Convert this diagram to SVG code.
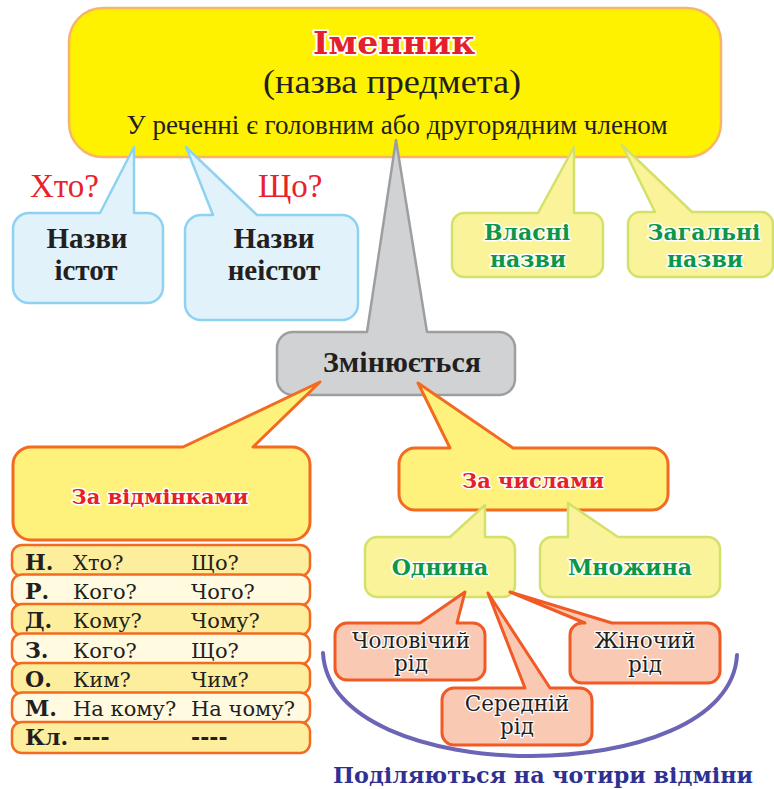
<svg xmlns="http://www.w3.org/2000/svg" width="774" height="789" viewBox="0 0 774 789">
<style>
.top{fill:#FFF200;stroke:#F8B565;stroke-width:2.5}
.blue{fill:#E2F2FB;stroke:#8DD2F1;stroke-width:2.5;stroke-linejoin:round}
.gray{fill:#D1D2D4;stroke:#9C9EA1;stroke-width:2.5;stroke-linejoin:round}
.green{fill:#FAF39A;stroke:#D3E16B;stroke-width:2.5;stroke-linejoin:round}
.orange{fill:#FFF27C;stroke:#F26B21;stroke-width:3;stroke-linejoin:round}
.pink{fill:#F9C9B4;stroke:#F15A24;stroke-width:3;stroke-linejoin:round}
.r1{fill:#FDEE9E;stroke:#F26B21;stroke-width:2.5}
.r2{fill:#FFFAE0;stroke:#F26B21;stroke-width:2.5}
.arc{fill:none;stroke:#6C64B4;stroke-width:4;stroke-linecap:round}
.serif{font-family:"Liberation Serif","DejaVu Serif",serif;fill:#231F20}
.sb{font-family:"Liberation Serif","DejaVu Serif",serif;font-weight:bold;fill:#231F20;text-anchor:middle}
.head{font-family:"DejaVu Serif","Liberation Serif",serif;font-weight:bold;text-anchor:middle;stroke:#fff;stroke-width:3;paint-order:stroke;stroke-linejoin:round}
.red{fill:#E4202A}
.grn{fill:#0C9647}
.pt{font-family:"DejaVu Serif","Liberation Serif",serif;font-size:21.5px;fill:#231F20;text-anchor:middle;stroke:#fff;stroke-width:2.5;paint-order:stroke;stroke-linejoin:round}
.tb{font-family:"DejaVu Serif","Liberation Serif",serif;font-size:21px;fill:#231F20}
.tbb{font-family:"DejaVu Serif","Liberation Serif",serif;font-size:22px;font-weight:bold;fill:#231F20}
</style>

<g id="imennyk">
<rect class="top" x="69" y="8" width="652" height="149" rx="34"/>
<text class="head red" x="394" y="54" font-size="32" textLength="162" lengthAdjust="spacingAndGlyphs" style="stroke-width:4">Іменник</text>
<text class="serif" x="392" y="93" font-size="34" text-anchor="middle" textLength="258" lengthAdjust="spacingAndGlyphs">(назва предмета)</text>
<text class="serif" x="397" y="134" font-size="27" text-anchor="middle" textLength="541" lengthAdjust="spacingAndGlyphs">У реченні є головним або другорядним членом</text>
</g>

<g id="connectors">
<text class="serif" x="30" y="197" font-size="33" style="fill:#E8222A">Хто?</text>
<text class="serif" x="258" y="197" font-size="33" style="fill:#E8222A">Що?</text>
<path class="arc" d="M323 653 C330 790 730 790 737 655"/>
</g>

<g id="istoty">
<path class="blue" d="M29 213 L100 213 L134 147 L134 213 L147 213 A16 16 0 0 1 163 229 L163 287 A16 16 0 0 1 147 303 L29 303 A16 16 0 0 1 13 287 L13 229 A16 16 0 0 1 29 213Z"/>
<text class="sb" x="87" y="248" font-size="29">Назви</text>
<text class="sb" x="86" y="280" font-size="29">істот</text>
</g>

<g id="neistoty">
<path class="blue" d="M201 215 L213 215 L186 147 L257 215 L342 215 A16 16 0 0 1 358 231 L358 304 A16 16 0 0 1 342 320 L201 320 A16 16 0 0 1 185 304 L185 231 A16 16 0 0 1 201 215Z"/>
<text class="sb" x="274" y="248" font-size="29">Назви</text>
<text class="sb" x="274" y="280" font-size="29">неістот</text>
</g>

<g id="vlasni">
<path class="green" d="M464 213 L538 213 L574 147 L574 213 L591 213 A12 12 0 0 1 603 225 L603 265 A12 12 0 0 1 591 277 L464 277 A12 12 0 0 1 452 265 L452 225 A12 12 0 0 1 464 213Z"/>
<text class="head grn" x="527" y="240" font-size="22">Власні</text>
<text class="head grn" x="528" y="267" font-size="22">назви</text>
</g>

<g id="zahalni">
<path class="green" d="M640 212 L655 212 L622 145 L692 212 L761 212 A12 12 0 0 1 773 224 L773 265 A12 12 0 0 1 761 277 L640 277 A12 12 0 0 1 628 265 L628 224 A12 12 0 0 1 640 212Z"/>
<text class="head grn" x="704" y="240" font-size="22">Загальні</text>
<text class="head grn" x="705" y="267" font-size="22">назви</text>
</g>

<g id="zminiuietsia">
<path class="gray" d="M293 332 L367 332 L396 140 L427 332 L499 332 A16 16 0 0 1 515 348 L515 379 A16 16 0 0 1 499 395 L293 395 A16 16 0 0 1 277 379 L277 348 A16 16 0 0 1 293 332Z"/>
<text class="sb" x="402" y="372" font-size="30">Змінюється</text>
</g>

<g id="vidminky">
<path class="orange" d="M31 447 L183 447 L320 382 L253 447 L292 447 A18 18 0 0 1 310 465 L310 522 A18 18 0 0 1 292 540 L31 540 A18 18 0 0 1 13 522 L13 465 A18 18 0 0 1 31 447Z"/>
<text class="head red" x="160" y="504" font-size="21">За відмінками</text>
</g>

<g id="chysla">
<path class="orange" d="M415 448 L450 448 L418 383 L513 448 L652 448 A16 16 0 0 1 668 464 L668 494 A16 16 0 0 1 652 510 L415 510 A16 16 0 0 1 399 494 L399 464 A16 16 0 0 1 415 448Z"/>
<text class="head red" x="533" y="488" font-size="21">За числами</text>
</g>

<g id="odnyna">
<path class="green" d="M377 537 L450 537 L485 505 L485 537 L503 537 A12 12 0 0 1 515 549 L515 585 A12 12 0 0 1 503 597 L377 597 A12 12 0 0 1 365 585 L365 549 A12 12 0 0 1 377 537Z"/>
<text class="head grn" x="440" y="575" font-size="22">Однина</text>
</g>

<g id="mnozhyna">
<path class="green" d="M552 537 L568 537 L568 503 L618 537 L708 537 A12 12 0 0 1 720 549 L720 585 A12 12 0 0 1 708 597 L552 597 A12 12 0 0 1 540 585 L540 549 A12 12 0 0 1 552 537Z"/>
<text class="head grn" x="630" y="575" font-size="22">Множина</text>
</g>

<g id="cholovichyi">
<path class="pink" d="M347 623 L420 623 L465 592 L457 623 L473 623 A12 12 0 0 1 485 635 L485 668 A12 12 0 0 1 473 680 L347 680 A12 12 0 0 1 335 668 L335 635 A12 12 0 0 1 347 623Z"/>
<text class="pt" x="411" y="648">Чоловічий</text>
<text class="pt" x="411" y="671">рід</text>
</g>

<g id="zhinochyi">
<path class="pink" d="M582 623 L585 623 L510 592 L612 623 L708 623 A12 12 0 0 1 720 635 L720 671 A12 12 0 0 1 708 683 L582 683 A12 12 0 0 1 570 671 L570 635 A12 12 0 0 1 582 623Z"/>
<text class="pt" x="645" y="648">Жіночий</text>
<text class="pt" x="645" y="672">рід</text>
</g>

<g id="serednii">
<path class="pink" d="M454 688 L525 688 L488 593 L550 688 L580 688 A12 12 0 0 1 592 700 L592 733 A12 12 0 0 1 580 745 L454 745 A12 12 0 0 1 442 733 L442 700 A12 12 0 0 1 454 688Z"/>
<text class="pt" x="517" y="711">Середній</text>
<text class="pt" x="517" y="734">рід</text>
</g>

<g id="table">
<rect class="r1" x="12" y="545" width="298" height="31" rx="10"/>
<rect class="r2" x="12" y="574.5" width="298" height="31" rx="10"/>
<rect class="r1" x="12" y="604" width="298" height="31" rx="10"/>
<rect class="r2" x="12" y="633.5" width="298" height="31" rx="10"/>
<rect class="r1" x="12" y="663" width="298" height="31" rx="10"/>
<rect class="r2" x="12" y="692.5" width="298" height="31" rx="10"/>
<rect class="r1" x="12" y="722" width="298" height="31" rx="10"/>
<text class="tbb" x="25" y="570">Н.</text><text class="tb" x="73" y="570">Хто?</text><text class="tb" x="191" y="570">Що?</text>
<text class="tbb" x="25" y="599">Р.</text><text class="tb" x="73" y="599">Кого?</text><text class="tb" x="191" y="599">Чого?</text>
<text class="tbb" x="25" y="628">Д.</text><text class="tb" x="73" y="628">Кому?</text><text class="tb" x="191" y="628">Чому?</text>
<text class="tbb" x="25" y="658">З.</text><text class="tb" x="73" y="658">Кого?</text><text class="tb" x="191" y="658">Що?</text>
<text class="tbb" x="25" y="687">О.</text><text class="tb" x="73" y="687">Ким?</text><text class="tb" x="191" y="687">Чим?</text>
<text class="tbb" x="25" y="716">М.</text><text class="tb" x="73" y="716">На кому?</text><text class="tb" x="191" y="716">На чому?</text>
<text class="tbb" x="25" y="745">Кл.</text><text class="tbb" x="73" y="745">----</text><text class="tbb" x="191" y="745">----</text>
</g>

<g id="podiliaiutsia">
<text class="head" x="543" y="783" font-size="22" textLength="420" lengthAdjust="spacingAndGlyphs" style="fill:#2E3192;stroke:none">Поділяються на чотири відміни</text>
</g>
</svg>
